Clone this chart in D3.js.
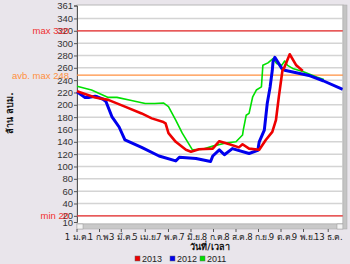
<!DOCTYPE html>
<html>
<head>
<meta charset="utf-8">
<script src="https://cdn.jsdelivr.net/npm/d3@7"></script>
<style>
  body { margin: 0; background: #e9e5eb; }
  svg { display: block; font-family: Tahoma, "DejaVu Sans", sans-serif; }
</style>
</head>
<body>
<svg width="350" height="264"></svg>
<script>
// day of year -> volume (million m3)
var days2013 = [0, 25, 43, 66, 89, 103, 119, 122, 126, 136, 150, 157, 168, 187, 196, 210, 223, 228, 237, 251, 260, 269, 274, 278, 283, 285, 293, 302, 311];
var vals2013 = [222, 212, 208, 197, 186, 178, 172, 170, 154, 140, 127, 124, 128, 129, 141, 136, 131, 136, 129, 127, 143, 156, 175, 213, 256, 259, 282, 264, 255];

var days2012 = [0, 11, 17, 25, 28, 36, 40, 48, 58, 66, 89, 113, 136, 141, 164, 184, 187, 196, 203, 214, 237, 249, 251, 258, 262, 266, 269, 270, 272.5, 282, 286, 302, 321, 339, 366];
var vals2012 = [221, 212, 212, 214, 213, 209, 205, 181, 164, 143, 131, 117, 109, 115, 113, 108, 117, 127, 119, 129, 121, 126, 140, 159, 202, 229, 256, 270, 277, 259, 256, 252, 247, 239, 225];

var days2011 = [0, 20, 43, 55, 75, 94, 107, 119, 126, 136, 145, 159, 173, 187, 205, 219, 228, 229, 233, 237, 242, 247, 254, 256, 263, 270, 275, 282, 286, 290, 297, 311, 330, 340];
var vals2011 = [230, 224, 212, 212, 207, 202, 202, 203, 197, 175, 154, 127, 128, 133, 138, 140, 151, 159, 183, 186, 213, 224, 229, 264, 268, 275, 267, 264, 271, 264, 259, 254, 245, 241];

var yTicks = [10, 20, 40, 60, 80, 100, 120, 140, 160, 180, 200, 220, 240, 260, 280, 300, 320, 340, 361];
var tickDays = [0, 31, 61, 94, 126, 157, 188, 219, 250, 281, 312, 346];
var tickLabels = ["1 ม.ค.", "1 ก.พ.", "3 มี.ค.", "5 เม.ย.", "7 พ.ค.", "7 มิ.ย.", "8 ก.ค.", "8 ส.ค.", "8 ก.ย.", "9 ต.ค.", "9 พ.ย.", "13 ธ.ค."];
var refValues = [320, 248, 20];
var refLabels = ["max 320", "avb. max 248", "min 20"];
var refColors = ["#f03030", "#ff9040", "#f03030"];
var seriesNames = ["2013", "2012", "2011"];
var seriesColors = ["#ee0000", "#0000ee", "#00e000"];

var svg = d3.select("svg");
var plotL = 77, plotR = 343, plotT = 5.5, plotB = 222;

var x = d3.scaleLinear().domain([0, 365]).range([plotL, plotR - 1]);
var y = d3.scaleLinear().domain([10, 361]).range([plotB, plotT]);

// plot background
svg.append("rect")
    .attr("x", plotL).attr("y", 5)
    .attr("width", plotR - plotL).attr("height", 219)
    .attr("fill", "#fff")
    .attr("stroke", "#b8b8b8");

// grid
svg.append("g").selectAll("line")
    .data(yTicks.filter(function (d) { return d > 10 && d < 361; }))
    .enter().append("line")
    .attr("x1", plotL).attr("x2", plotR)
    .attr("y1", function (d) { return y(d); })
    .attr("y2", function (d) { return y(d); })
    .attr("stroke", "#d4d4d4")
    .attr("stroke-width", 1.5);

// y axis
var yAxis = svg.append("g")
    .attr("transform", "translate(" + plotL + ",0)")
    .call(d3.axisLeft(y).tickValues(yTicks).tickSize(3).tickFormat(d3.format("d")));
yAxis.select(".domain").attr("stroke", "#555");
yAxis.selectAll(".tick line").attr("stroke", "#555");
yAxis.selectAll("text").attr("font-size", 9.5).attr("fill", "#333").attr("x", -4)
    .attr("font-family", "'Liberation Sans', Arial, sans-serif");

// reference lines
refValues.forEach(function (v, i) {
    svg.append("line")
        .attr("x1", plotL).attr("x2", plotR)
        .attr("y1", y(v)).attr("y2", y(v))
        .attr("stroke", refColors[i]).attr("stroke-width", 1.2);
    svg.append("text")
        .attr("x", 69).attr("y", y(v)).attr("dy", "0.35em")
        .attr("text-anchor", "end")
        .attr("font-size", 9.5)
        .attr("font-family", "'Liberation Sans', Arial, sans-serif")
        .attr("fill", refColors[i])
        .text(refLabels[i]);
});

// series
var line = d3.line()
    .x(function (d) { return x(d[0]); })
    .y(function (d) { return y(d[1]); });

var series = [
    { days: days2011, vals: vals2011, color: seriesColors[2], w: 1.6 },
    { days: days2012, vals: vals2012, color: seriesColors[1], w: 3 },
    { days: days2013, vals: vals2013, color: seriesColors[0], w: 2.6 }
];
series.forEach(function (s) {
    svg.append("path")
        .datum(d3.zip(s.days, s.vals))
        .attr("fill", "none")
        .attr("stroke", s.color)
        .attr("stroke-width", s.w)
        .attr("stroke-linejoin", "round")
        .attr("d", line);
});

// horizontal scrollbar
svg.append("rect").attr("x", plotL).attr("y", 224).attr("width", plotR - plotL).attr("height", 5)
    .attr("fill", "#c9c9c9").attr("stroke", "#a8a8a8").attr("stroke-width", 0.5);
[plotL, plotR - 6].forEach(function (bx) {
    svg.append("rect").attr("x", bx).attr("y", 224).attr("width", 6).attr("height", 5)
        .attr("fill", "#f4f4f4").attr("stroke", "#999").attr("stroke-width", 0.5);
});
// right vertical bar
svg.append("rect").attr("x", plotR).attr("y", 5).attr("width", 4).attr("height", 224)
    .attr("fill", "#c4c4c4").attr("stroke", "#aaa").attr("stroke-width", 0.5);

// x axis ticks + labels
var xt = svg.append("g");
xt.selectAll("line").data(tickDays).enter().append("line")
    .attr("x1", function (d) { return x(d); }).attr("x2", function (d) { return x(d); })
    .attr("y1", 229).attr("y2", 232)
    .attr("stroke", "#555");
xt.selectAll("text").data(tickDays).enter().append("text")
    .attr("x", function (d) { return x(d); })
    .attr("y", 240)
    .attr("text-anchor", "middle")
    .attr("font-size", 8.5)
    .attr("letter-spacing", -0.2)
    .attr("fill", "#222")
    .text(function (d, i) { return tickLabels[i]; });

// axis titles
svg.append("text")
    .attr("x", (plotL + plotR) / 2).attr("y", 250)
    .attr("text-anchor", "middle")
    .attr("font-size", 9).attr("font-weight", "bold")
    .attr("fill", "#111")
    .text("วันที่/เวลา");

svg.append("text")
    .attr("transform", "translate(13,113) rotate(-90)")
    .attr("text-anchor", "middle")
    .attr("font-size", 9).attr("font-weight", "bold")
    .attr("fill", "#111")
    .text("ล้าน ลบม.");

// legend
var legendX = [135, 170, 200];
var lg = svg.append("g").selectAll("g").data(seriesNames).enter().append("g")
    .attr("transform", function (d, i) { return "translate(" + legendX[i] + ",256)"; });
lg.append("rect").attr("width", 5).attr("height", 5)
    .attr("fill", function (d, i) { return seriesColors[i]; })
    .attr("stroke", "#666").attr("stroke-width", 0.5);
lg.append("text").attr("x", 7).attr("y", 5.5)
    .attr("font-size", 9)
    .attr("font-family", "'Liberation Sans', Arial, sans-serif")
    .attr("fill", "#222")
    .text(function (d) { return d; });
</script>
</body>
</html>
